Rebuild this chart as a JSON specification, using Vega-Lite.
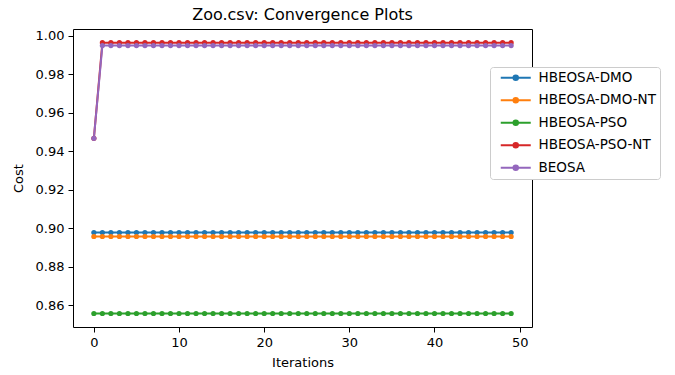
{
  "$schema": "https://vega.github.io/schema/vega-lite/v6.json",
  "width": 459,
  "height": 298,
  "autosize": {"type": "none"},
  "padding": {"left": 73, "top": 29, "right": 143, "bottom": 48},
  "background": "white",
  "config": {
    "font": "DejaVu Sans",
    "view": {"stroke": "black", "strokeWidth": 1},
    "axis": {
      "grid": false,
      "domain": false,
      "tickColor": "black",
      "tickSize": 5,
      "tickWidth": 1,
      "labelFontSize": 13,
      "labelColor": "black",
      "labelFont": "DejaVu Sans",
      "titleFont": "DejaVu Sans",
      "titleFontSize": 13,
      "titleFontWeight": "normal",
      "titleColor": "black",
      "labelPadding": 4
    },
    "title": {"font": "DejaVu Sans", "fontSize": 16, "fontWeight": "normal", "color": "black", "offset": 6},
    "legend": {
      "fillColor": "white",
      "strokeColor": "#cccccc",
      "cornerRadius": 3,
      "padding": 4,
      "labelFont": "DejaVu Sans",
      "labelFontSize": 13.5,
      "labelColor": "black",
      "rowPadding": 7.5,
      "symbolType": "M0,0H7.5M4.31,0A0.56,0.56,0,1,1,3.19,0A0.56,0.56,0,1,1,4.31,0Z",
      "symbolSize": 64,
      "symbolStrokeWidth": 2,
      "labelOffset": 31
    }
  },
  "title": "Zoo.csv: Convergence Plots",
  "data": {
    "values": [
      {"i": 0, "HBEOSA-DMO": 0.8979, "HBEOSA-DMO-NT": 0.8958, "HBEOSA-PSO": 0.8558, "HBEOSA-PSO-NT": 0.9468, "BEOSA": 0.9468},
      {"i": 1, "HBEOSA-DMO": 0.8979, "HBEOSA-DMO-NT": 0.8958, "HBEOSA-PSO": 0.8558, "HBEOSA-PSO-NT": 0.9965, "BEOSA": 0.995},
      {"i": 2, "HBEOSA-DMO": 0.8979, "HBEOSA-DMO-NT": 0.8958, "HBEOSA-PSO": 0.8558, "HBEOSA-PSO-NT": 0.9965, "BEOSA": 0.995},
      {"i": 3, "HBEOSA-DMO": 0.8979, "HBEOSA-DMO-NT": 0.8958, "HBEOSA-PSO": 0.8558, "HBEOSA-PSO-NT": 0.9965, "BEOSA": 0.995},
      {"i": 4, "HBEOSA-DMO": 0.8979, "HBEOSA-DMO-NT": 0.8958, "HBEOSA-PSO": 0.8558, "HBEOSA-PSO-NT": 0.9965, "BEOSA": 0.995},
      {"i": 5, "HBEOSA-DMO": 0.8979, "HBEOSA-DMO-NT": 0.8958, "HBEOSA-PSO": 0.8558, "HBEOSA-PSO-NT": 0.9965, "BEOSA": 0.995},
      {"i": 6, "HBEOSA-DMO": 0.8979, "HBEOSA-DMO-NT": 0.8958, "HBEOSA-PSO": 0.8558, "HBEOSA-PSO-NT": 0.9965, "BEOSA": 0.995},
      {"i": 7, "HBEOSA-DMO": 0.8979, "HBEOSA-DMO-NT": 0.8958, "HBEOSA-PSO": 0.8558, "HBEOSA-PSO-NT": 0.9965, "BEOSA": 0.995},
      {"i": 8, "HBEOSA-DMO": 0.8979, "HBEOSA-DMO-NT": 0.8958, "HBEOSA-PSO": 0.8558, "HBEOSA-PSO-NT": 0.9965, "BEOSA": 0.995},
      {"i": 9, "HBEOSA-DMO": 0.8979, "HBEOSA-DMO-NT": 0.8958, "HBEOSA-PSO": 0.8558, "HBEOSA-PSO-NT": 0.9965, "BEOSA": 0.995},
      {"i": 10, "HBEOSA-DMO": 0.8979, "HBEOSA-DMO-NT": 0.8958, "HBEOSA-PSO": 0.8558, "HBEOSA-PSO-NT": 0.9965, "BEOSA": 0.995},
      {"i": 11, "HBEOSA-DMO": 0.8979, "HBEOSA-DMO-NT": 0.8958, "HBEOSA-PSO": 0.8558, "HBEOSA-PSO-NT": 0.9965, "BEOSA": 0.995},
      {"i": 12, "HBEOSA-DMO": 0.8979, "HBEOSA-DMO-NT": 0.8958, "HBEOSA-PSO": 0.8558, "HBEOSA-PSO-NT": 0.9965, "BEOSA": 0.995},
      {"i": 13, "HBEOSA-DMO": 0.8979, "HBEOSA-DMO-NT": 0.8958, "HBEOSA-PSO": 0.8558, "HBEOSA-PSO-NT": 0.9965, "BEOSA": 0.995},
      {"i": 14, "HBEOSA-DMO": 0.8979, "HBEOSA-DMO-NT": 0.8958, "HBEOSA-PSO": 0.8558, "HBEOSA-PSO-NT": 0.9965, "BEOSA": 0.995},
      {"i": 15, "HBEOSA-DMO": 0.8979, "HBEOSA-DMO-NT": 0.8958, "HBEOSA-PSO": 0.8558, "HBEOSA-PSO-NT": 0.9965, "BEOSA": 0.995},
      {"i": 16, "HBEOSA-DMO": 0.8979, "HBEOSA-DMO-NT": 0.8958, "HBEOSA-PSO": 0.8558, "HBEOSA-PSO-NT": 0.9965, "BEOSA": 0.995},
      {"i": 17, "HBEOSA-DMO": 0.8979, "HBEOSA-DMO-NT": 0.8958, "HBEOSA-PSO": 0.8558, "HBEOSA-PSO-NT": 0.9965, "BEOSA": 0.995},
      {"i": 18, "HBEOSA-DMO": 0.8979, "HBEOSA-DMO-NT": 0.8958, "HBEOSA-PSO": 0.8558, "HBEOSA-PSO-NT": 0.9965, "BEOSA": 0.995},
      {"i": 19, "HBEOSA-DMO": 0.8979, "HBEOSA-DMO-NT": 0.8958, "HBEOSA-PSO": 0.8558, "HBEOSA-PSO-NT": 0.9965, "BEOSA": 0.995},
      {"i": 20, "HBEOSA-DMO": 0.8979, "HBEOSA-DMO-NT": 0.8958, "HBEOSA-PSO": 0.8558, "HBEOSA-PSO-NT": 0.9965, "BEOSA": 0.995},
      {"i": 21, "HBEOSA-DMO": 0.8979, "HBEOSA-DMO-NT": 0.8958, "HBEOSA-PSO": 0.8558, "HBEOSA-PSO-NT": 0.9965, "BEOSA": 0.995},
      {"i": 22, "HBEOSA-DMO": 0.8979, "HBEOSA-DMO-NT": 0.8958, "HBEOSA-PSO": 0.8558, "HBEOSA-PSO-NT": 0.9965, "BEOSA": 0.995},
      {"i": 23, "HBEOSA-DMO": 0.8979, "HBEOSA-DMO-NT": 0.8958, "HBEOSA-PSO": 0.8558, "HBEOSA-PSO-NT": 0.9965, "BEOSA": 0.995},
      {"i": 24, "HBEOSA-DMO": 0.8979, "HBEOSA-DMO-NT": 0.8958, "HBEOSA-PSO": 0.8558, "HBEOSA-PSO-NT": 0.9965, "BEOSA": 0.995},
      {"i": 25, "HBEOSA-DMO": 0.8979, "HBEOSA-DMO-NT": 0.8958, "HBEOSA-PSO": 0.8558, "HBEOSA-PSO-NT": 0.9965, "BEOSA": 0.995},
      {"i": 26, "HBEOSA-DMO": 0.8979, "HBEOSA-DMO-NT": 0.8958, "HBEOSA-PSO": 0.8558, "HBEOSA-PSO-NT": 0.9965, "BEOSA": 0.995},
      {"i": 27, "HBEOSA-DMO": 0.8979, "HBEOSA-DMO-NT": 0.8958, "HBEOSA-PSO": 0.8558, "HBEOSA-PSO-NT": 0.9965, "BEOSA": 0.995},
      {"i": 28, "HBEOSA-DMO": 0.8979, "HBEOSA-DMO-NT": 0.8958, "HBEOSA-PSO": 0.8558, "HBEOSA-PSO-NT": 0.9965, "BEOSA": 0.995},
      {"i": 29, "HBEOSA-DMO": 0.8979, "HBEOSA-DMO-NT": 0.8958, "HBEOSA-PSO": 0.8558, "HBEOSA-PSO-NT": 0.9965, "BEOSA": 0.995},
      {"i": 30, "HBEOSA-DMO": 0.8979, "HBEOSA-DMO-NT": 0.8958, "HBEOSA-PSO": 0.8558, "HBEOSA-PSO-NT": 0.9965, "BEOSA": 0.995},
      {"i": 31, "HBEOSA-DMO": 0.8979, "HBEOSA-DMO-NT": 0.8958, "HBEOSA-PSO": 0.8558, "HBEOSA-PSO-NT": 0.9965, "BEOSA": 0.995},
      {"i": 32, "HBEOSA-DMO": 0.8979, "HBEOSA-DMO-NT": 0.8958, "HBEOSA-PSO": 0.8558, "HBEOSA-PSO-NT": 0.9965, "BEOSA": 0.995},
      {"i": 33, "HBEOSA-DMO": 0.8979, "HBEOSA-DMO-NT": 0.8958, "HBEOSA-PSO": 0.8558, "HBEOSA-PSO-NT": 0.9965, "BEOSA": 0.995},
      {"i": 34, "HBEOSA-DMO": 0.8979, "HBEOSA-DMO-NT": 0.8958, "HBEOSA-PSO": 0.8558, "HBEOSA-PSO-NT": 0.9965, "BEOSA": 0.995},
      {"i": 35, "HBEOSA-DMO": 0.8979, "HBEOSA-DMO-NT": 0.8958, "HBEOSA-PSO": 0.8558, "HBEOSA-PSO-NT": 0.9965, "BEOSA": 0.995},
      {"i": 36, "HBEOSA-DMO": 0.8979, "HBEOSA-DMO-NT": 0.8958, "HBEOSA-PSO": 0.8558, "HBEOSA-PSO-NT": 0.9965, "BEOSA": 0.995},
      {"i": 37, "HBEOSA-DMO": 0.8979, "HBEOSA-DMO-NT": 0.8958, "HBEOSA-PSO": 0.8558, "HBEOSA-PSO-NT": 0.9965, "BEOSA": 0.995},
      {"i": 38, "HBEOSA-DMO": 0.8979, "HBEOSA-DMO-NT": 0.8958, "HBEOSA-PSO": 0.8558, "HBEOSA-PSO-NT": 0.9965, "BEOSA": 0.995},
      {"i": 39, "HBEOSA-DMO": 0.8979, "HBEOSA-DMO-NT": 0.8958, "HBEOSA-PSO": 0.8558, "HBEOSA-PSO-NT": 0.9965, "BEOSA": 0.995},
      {"i": 40, "HBEOSA-DMO": 0.8979, "HBEOSA-DMO-NT": 0.8958, "HBEOSA-PSO": 0.8558, "HBEOSA-PSO-NT": 0.9965, "BEOSA": 0.995},
      {"i": 41, "HBEOSA-DMO": 0.8979, "HBEOSA-DMO-NT": 0.8958, "HBEOSA-PSO": 0.8558, "HBEOSA-PSO-NT": 0.9965, "BEOSA": 0.995},
      {"i": 42, "HBEOSA-DMO": 0.8979, "HBEOSA-DMO-NT": 0.8958, "HBEOSA-PSO": 0.8558, "HBEOSA-PSO-NT": 0.9965, "BEOSA": 0.995},
      {"i": 43, "HBEOSA-DMO": 0.8979, "HBEOSA-DMO-NT": 0.8958, "HBEOSA-PSO": 0.8558, "HBEOSA-PSO-NT": 0.9965, "BEOSA": 0.995},
      {"i": 44, "HBEOSA-DMO": 0.8979, "HBEOSA-DMO-NT": 0.8958, "HBEOSA-PSO": 0.8558, "HBEOSA-PSO-NT": 0.9965, "BEOSA": 0.995},
      {"i": 45, "HBEOSA-DMO": 0.8979, "HBEOSA-DMO-NT": 0.8958, "HBEOSA-PSO": 0.8558, "HBEOSA-PSO-NT": 0.9965, "BEOSA": 0.995},
      {"i": 46, "HBEOSA-DMO": 0.8979, "HBEOSA-DMO-NT": 0.8958, "HBEOSA-PSO": 0.8558, "HBEOSA-PSO-NT": 0.9965, "BEOSA": 0.995},
      {"i": 47, "HBEOSA-DMO": 0.8979, "HBEOSA-DMO-NT": 0.8958, "HBEOSA-PSO": 0.8558, "HBEOSA-PSO-NT": 0.9965, "BEOSA": 0.995},
      {"i": 48, "HBEOSA-DMO": 0.8979, "HBEOSA-DMO-NT": 0.8958, "HBEOSA-PSO": 0.8558, "HBEOSA-PSO-NT": 0.9965, "BEOSA": 0.995},
      {"i": 49, "HBEOSA-DMO": 0.8979, "HBEOSA-DMO-NT": 0.8958, "HBEOSA-PSO": 0.8558, "HBEOSA-PSO-NT": 0.9965, "BEOSA": 0.995}
    ]
  },
  "transform": [
    {"fold": ["HBEOSA-DMO", "HBEOSA-DMO-NT", "HBEOSA-PSO", "HBEOSA-PSO-NT", "BEOSA"], "as": ["series", "cost"]}
  ],
  "mark": {"type": "line", "strokeWidth": 2, "point": {"filled": true, "size": 27, "opacity": 1}},
  "encoding": {
    "x": {
      "field": "i", "type": "quantitative",
      "scale": {"domain": [-2.45, 51.45], "nice": false, "zero": false},
      "axis": {"title": "Iterations", "values": [0, 10, 20, 30, 40, 50], "titlePadding": 7}
    },
    "y": {
      "field": "cost", "type": "quantitative",
      "scale": {"domain": [0.8488, 1.0036], "nice": false, "zero": false},
      "axis": {"title": "Cost", "values": [0.86, 0.88, 0.9, 0.92, 0.94, 0.96, 0.98, 1.0], "format": ".2f", "titlePadding": 10}
    },
    "color": {
      "field": "series", "type": "nominal",
      "scale": {
        "domain": ["HBEOSA-DMO", "HBEOSA-DMO-NT", "HBEOSA-PSO", "HBEOSA-PSO-NT", "BEOSA"],
        "range": ["#1f77b4", "#ff7f0e", "#2ca02c", "#d62728", "#9467bd"]
      },
      "legend": {"title": null, "orient": "none", "legendX": 417, "legendY": 38}
    }
  }
}
